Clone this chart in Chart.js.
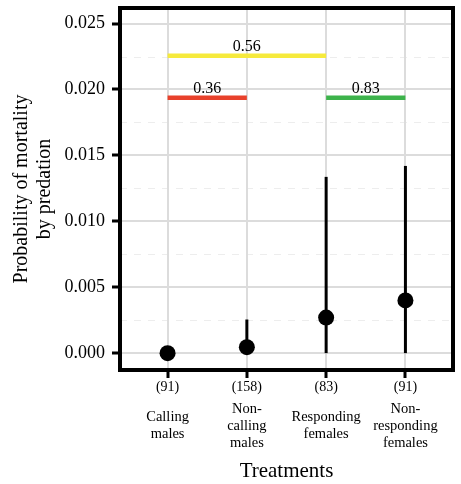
<!DOCTYPE html>
<html><head><meta charset="utf-8">
<script src="https://cdn.jsdelivr.net/npm/chart.js@4.4.0/dist/chart.umd.min.js"></script>
<style>html,body{margin:0;padding:0;background:#fff;} canvas{display:block;}</style>
</head><body>
<canvas id="c" width="461" height="484"></canvas>
<script>
// ---- data ----
const categories = [["Calling","males"],["Non-","calling","males"],["Responding","females"],["Non-","responding","females"]];
const sampleSizes = ["(91)","(158)","(83)","(91)"];
const catPositions = [1, 2, 3, 4];
const mortality = [0, 0.00045, 0.0027, 0.0040];
const ciLower = [0, 0, 0, 0];
const ciUpper = [0, 0.00255, 0.01337, 0.0142];
const yTicks = [0, 0.005, 0.010, 0.015, 0.020, 0.025];
const yMinorTicks = [0.0025, 0.0075, 0.0125, 0.0175, 0.0225];
const compFrom = [1, 1, 3];
const compTo = [3, 2, 4];
const compY = [0.02255, 0.01937, 0.01937];
const compLabels = ["0.56", "0.36", "0.83"];
const compColors = ["#f6ea3c", "#e8412b", "#3db34b"];

const FONT = "'Liberation Serif', 'Times New Roman', serif";

const datasets = [];
datasets.push({
  type: 'scatter', order: 0,
  data: catPositions.map((p, i) => ({x: p, y: mortality[i]})),
  pointRadius: 8, pointHoverRadius: 8, backgroundColor: '#000', borderWidth: 0
});
catPositions.forEach((p, i) => {
  datasets.push({
    type: 'line', order: 1,
    data: [{x: p, y: ciLower[i]}, {x: p, y: ciUpper[i]}],
    borderColor: '#000', borderWidth: 3, pointRadius: 0, borderCapStyle: 'butt'
  });
});
compFrom.forEach((f, i) => {
  datasets.push({
    type: 'line', order: 2,
    data: [{x: f, y: compY[i]}, {x: compTo[i], y: compY[i]}],
    borderColor: compColors[i], borderWidth: 4.5, pointRadius: 0, borderCapStyle: 'butt'
  });
});

const decor = {
  id: 'decor',
  beforeDraw(chart) {
    const {ctx, chartArea: a, scales: {y}} = chart;
    ctx.save();
    ctx.strokeStyle = '#ededed';
    ctx.lineWidth = 1;
    ctx.setLineDash([7, 7]);
    yMinorTicks.forEach(v => {
      const py = Math.round(y.getPixelForValue(v)) + 0.5;
      ctx.beginPath(); ctx.moveTo(a.left, py); ctx.lineTo(a.right, py); ctx.stroke();
    });
    ctx.restore();
  },
  afterDraw(chart) {
    const {ctx, chartArea: a, scales: {x, y}} = chart;
    ctx.save();
    // comparison labels
    ctx.fillStyle = '#000';
    ctx.font = "16px " + FONT;
    ctx.textAlign = 'center';
    ctx.textBaseline = 'alphabetic';
    compLabels.forEach((t, i) => {
      const cx = (x.getPixelForValue(compFrom[i]) + x.getPixelForValue(compTo[i])) / 2;
      ctx.fillText(t, cx, y.getPixelForValue(compY[i]) - 5);
    });
    // category labels
    ctx.font = "14.5px " + FONT;
    ctx.textBaseline = 'middle';
    const lh = 17;
    categories.forEach((lines, i) => {
      const cx = x.getPixelForValue(catPositions[i]);
      const cy = a.bottom + 56;
      const start = cy - (lines.length - 1) * lh / 2;
      lines.forEach((l, k) => ctx.fillText(l, cx, start + k * lh));
    });
    // panel border
    ctx.strokeStyle = '#000';
    ctx.lineWidth = 4;
    ctx.strokeRect(a.left, a.top, a.right - a.left, a.bottom - a.top);
    ctx.restore();
  }
};

new Chart(document.getElementById('c'), {
  type: 'scatter',
  data: { datasets },
  options: {
    responsive: false,
    animation: false,
    events: [],
    layout: { padding: { top: 5, right: 1, left: 0, bottom: 0 } },
    plugins: { legend: { display: false }, tooltip: { enabled: false } },
    scales: {
      x: {
        type: 'linear', min: 0.4, max: 4.6,
        afterBuildTicks: s => { s.ticks = catPositions.map(v => ({value: v})); },
        afterFit: s => { s.height = 114; s.paddingLeft = 0; s.paddingRight = 0; },
        ticks: {
          callback: (v, i) => sampleSizes[i],
          autoSkip: false, maxRotation: 0, minRotation: 0,
          font: { family: FONT, size: 14 }, color: '#000', padding: 1
        },
        grid: { color: '#dcdcdc', lineWidth: 2, tickColor: '#000', tickLength: 8, tickWidth: 3 },
        border: { display: false },
        title: { display: true, text: 'Treatments', font: { family: FONT, size: 21 }, color: '#000', padding: { top: 0, bottom: 0 } }
      },
      y: {
        type: 'linear', min: -0.00128, max: 0.02618,
        afterBuildTicks: s => { s.ticks = yTicks.map(v => ({value: v})); },
        afterFit: s => { s.width = 120; s.paddingTop = 0; s.paddingBottom = 0; },
        ticks: {
          callback: v => Number(v).toFixed(3),
          font: { family: FONT, size: 18 }, color: '#000', padding: 7
        },
        grid: { color: '#dcdcdc', lineWidth: 2, tickColor: '#000', tickLength: 8, tickWidth: 3 },
        border: { display: false },
        title: { display: true, text: ['Probability of mortality', 'by predation'], font: { family: FONT, size: 20, lineHeight: 1.15 }, color: '#000', padding: { top: 10, bottom: 0 } }
      }
    }
  },
  plugins: [decor]
});
</script>
</body></html>
